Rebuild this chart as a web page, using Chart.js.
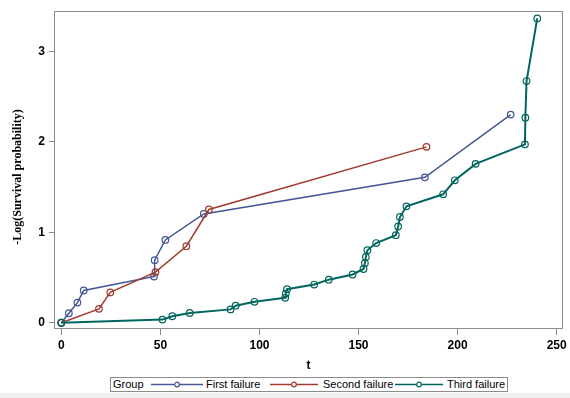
<!DOCTYPE html>
<html>
<head>
<meta charset="utf-8">
<script src="https://cdn.jsdelivr.net/npm/chart.js@4.4.1/dist/chart.umd.min.js"></script>
<style>
  html, body { margin: 0; padding: 0; background: #ffffff; }
  #wrap { position: relative; width: 570px; height: 398px; overflow: hidden; background: #ffffff; }
  #band { position: absolute; left: 0; bottom: 0; width: 570px; height: 5px; background: #efefef; }
  canvas { display: block; position: absolute; left: 0; top: 0; }
  #legend {
    position: absolute; left: 110px; top: 377px; width: 398px; height: 15px;
    box-sizing: border-box; border: 1px solid #8c8c8c; background: #ffffff;
    font: 11px "Liberation Sans", Arial, sans-serif; color: #000000;
  }
  #legend span { position: absolute; top: 0; line-height: 13px; white-space: nowrap; }
  #legend svg { position: absolute; top: 0; }
</style>
</head>
<body>
<div id="wrap">
  <div id="band"></div>
  <canvas id="c" width="570" height="398"></canvas>
  <div id="legend"></div>
</div>
<script>
// Cumulative hazard, -log S(t), for each failure order
const seriesNames = ['First failure', 'Second failure', 'Third failure'];
const seriesColors = ['#445694', '#A23A2E', '#01665E'];

const firstT  = [0, 3.8, 8.1, 11.3, 46.8, 47.1, 52.5, 71.9, 183.5, 226.8];
const firstY  = [0, 0.105, 0.223, 0.357, 0.511, 0.693, 0.916, 1.204, 1.609, 2.303];

const secondT = [0, 19, 24.7, 47.5, 63.1, 74.5, 184.3];
const secondY = [0, 0.154, 0.336, 0.560, 0.847, 1.253, 1.946];

const thirdT  = [0, 51, 56, 64.8, 85.4, 88, 97.5, 113, 113.3, 113.9,
                 127.6, 135, 147, 152.5, 153.2, 153.7, 154.5, 158.9, 168.8, 170,
                 170.9, 174.2, 192.7, 198.6, 209.1, 234, 234.2, 234.8, 240.2];
const thirdY  = [0, 0.035, 0.072, 0.109, 0.148, 0.189, 0.232, 0.276, 0.323, 0.372,
                 0.423, 0.477, 0.534, 0.595, 0.659, 0.728, 0.802, 0.882, 0.969, 1.065,
                 1.170, 1.288, 1.421, 1.576, 1.758, 1.974, 2.269, 2.674, 3.367];

const xTicks = [0, 50, 100, 150, 200, 250];
const yTicks = [0, 1, 2, 3];

const xTitle = 't';
const yTitle = '-Log(Survival probability)';
const legendTitle = 'Group';

const sans = '"Liberation Sans", Arial, sans-serif';
const serif = '"Liberation Serif", "Times New Roman", serif';
const frameColor = '#8c8c8c';

function toXY(xs, ys) { return xs.map((x, i) => ({ x: x, y: ys[i] })); }

const seriesData = [toXY(firstT, firstY), toXY(secondT, secondY), toXY(thirdT, thirdY)];
const lineWidths = [1.5, 1.5, 2];

const datasets = seriesData.map((d, i) => ({
  label: seriesNames[i],
  data: d,
  borderColor: seriesColors[i],
  backgroundColor: 'rgba(0,0,0,0)',
  borderWidth: lineWidths[i],
  pointStyle: 'circle',
  pointRadius: 3.3,
  pointBorderWidth: 1.2,
  pointBorderColor: seriesColors[i],
  pointBackgroundColor: 'rgba(255,255,255,0)',
  tension: 0,
  fill: false,
  order: 3 - i
}));

// Plot frame on all four sides
const framePlugin = {
  id: 'frame',
  beforeDatasetsDraw(chart) {
    const a = chart.chartArea, c = chart.ctx;
    c.save();
    c.strokeStyle = frameColor;
    c.lineWidth = 1;
    c.strokeRect(Math.round(a.left) + 0.5, Math.round(a.top) + 0.5,
                 Math.round(a.right - a.left) - 1, Math.round(a.bottom - a.top) - 1);
    c.restore();
  }
};

// Vertical axis title, drawn rotated beside the tick labels
const yTitlePlugin = {
  id: 'yTitle',
  afterDraw(chart) {
    const c = chart.ctx;
    c.save();
    c.translate(18, 177);
    c.rotate(-Math.PI / 2);
    c.font = 'bold 12px ' + serif;
    c.fillStyle = '#000000';
    c.textAlign = 'center';
    c.textBaseline = 'middle';
    c.fillText(yTitle, 0, 0);
    c.restore();
  }
};

const chart = new Chart(document.getElementById('c'), {
  type: 'line',
  data: { datasets: datasets },
  options: {
    responsive: false,
    animation: false,
    layout: { padding: { left: 0, right: 7, top: 7, bottom: 22 } },
    plugins: { legend: { display: false }, tooltip: { enabled: false } },
    scales: {
      x: {
        type: 'linear',
        min: -3.7,
        max: 253.2,
        afterBuildTicks: s => { s.ticks = xTicks.map(v => ({ value: v })); },
        afterFit: s => { s.height = 47; },
        grid: { display: true, drawOnChartArea: false, drawTicks: true, tickLength: 6, color: frameColor, lineWidth: 1 },
        border: { display: false },
        ticks: { font: { family: sans, size: 12, weight: 'bold' }, color: '#000000', padding: 3, maxRotation: 0, autoSkip: false },
        title: { display: true, text: xTitle, font: { family: sans, size: 12, weight: 'bold' }, color: '#000000', padding: { top: 4, bottom: 3 } }
      },
      y: {
        type: 'linear',
        min: -0.069,
        max: 3.447,
        afterBuildTicks: s => { s.ticks = yTicks.map(v => ({ value: v })); },
        afterFit: s => { s.width = 54; },
        grid: { display: true, drawOnChartArea: false, drawTicks: true, tickLength: 5, color: frameColor, lineWidth: 1 },
        border: { display: false },
        ticks: { font: { family: sans, size: 12, weight: 'bold' }, color: '#000000', padding: 4 },
        title: { display: false }
      }
    }
  },
  plugins: [framePlugin, yTitlePlugin]
});

// Legend box below the plot: line + marker sample for each group
(function buildLegend() {
  const box = document.getElementById('legend');
  const sampleLeft = [40, 159, 284];
  const sampleWidth = [52, 48, 48];
  const textLeft = [95, 212, 336];
  const g = document.createElement('span');
  g.style.left = '2px';
  g.textContent = legendTitle;
  box.appendChild(g);
  chart.data.datasets.forEach((ds, i) => {
    const w = sampleWidth[i];
    const ns = 'http://www.w3.org/2000/svg';
    const svg = document.createElementNS(ns, 'svg');
    svg.setAttribute('width', w);
    svg.setAttribute('height', 13);
    svg.style.left = sampleLeft[i] + 'px';
    const ln = document.createElementNS(ns, 'line');
    ln.setAttribute('x1', 0); ln.setAttribute('x2', w);
    ln.setAttribute('y1', 6.5); ln.setAttribute('y2', 6.5);
    ln.setAttribute('stroke', ds.borderColor);
    ln.setAttribute('stroke-width', 1.5);
    svg.appendChild(ln);
    const cir = document.createElementNS(ns, 'circle');
    cir.setAttribute('cx', w / 2); cir.setAttribute('cy', 6.5); cir.setAttribute('r', 2.3);
    cir.setAttribute('fill', '#ffffff');
    cir.setAttribute('stroke', ds.borderColor);
    cir.setAttribute('stroke-width', 1.2);
    svg.appendChild(cir);
    box.appendChild(svg);
    const t = document.createElement('span');
    t.style.left = textLeft[i] + 'px';
    t.textContent = ds.label;
    box.appendChild(t);
  });
})();
</script>
</body>
</html>
